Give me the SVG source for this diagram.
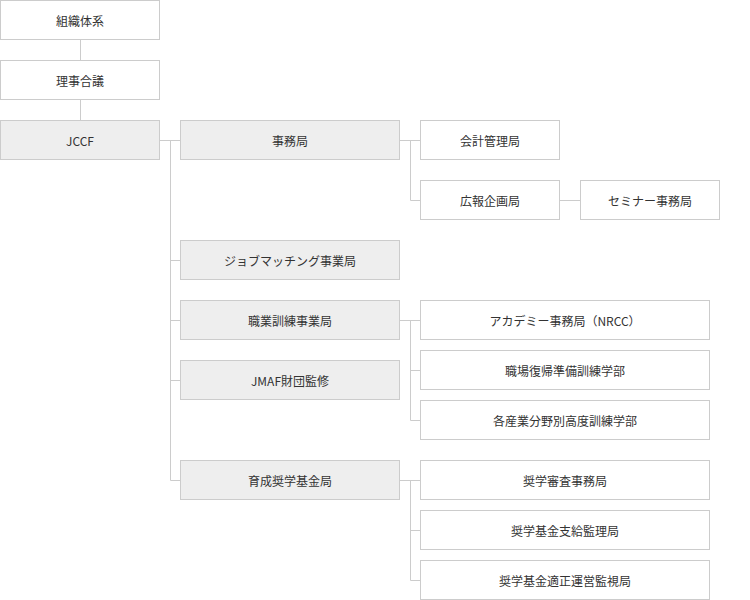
<svg xmlns="http://www.w3.org/2000/svg" width="750" height="600" viewBox="0 0 750 600">
<style>
.b rect{fill:#fff;stroke:#ccc;stroke-width:1}
.g rect{fill:#eee;stroke:#ccc;stroke-width:1}
text{font-family:"Noto Sans CJK JP","Liberation Sans",sans-serif;font-size:12px;fill:#333;text-anchor:middle;dominant-baseline:central}
#connectors path{fill:none;stroke:#ccc;stroke-width:1}
</style>
<rect width="750" height="600" fill="#fff"/>
<g id="connectors">
<path d="M80.5 40V60M80.5 100V120"/>
<path d="M160 140.5H180.5M170.5 140V480.5H180M170.5 260.5H180M170.5 320.5H180M170.5 380.5H180"/>
<path d="M400 140.5H420M410.5 140V200.5H420"/>
<path d="M560 200.5H580"/>
<path d="M400 320.5H420M410.5 320V420.5H420M410.5 370.5H420"/>
<path d="M400 480.5H420M410.5 480V580.5H420M410.5 530.5H420"/>
</g>
<g id="n1" class="b"><rect x="0.5" y="0.5" width="159" height="39"/><text x="80" y="20.5">組織体系</text></g>
<g id="n2" class="b"><rect x="0.5" y="60.5" width="159" height="39"/><text x="80" y="80.5">理事合議</text></g>
<g id="n3" class="g"><rect x="0.5" y="120.5" width="159" height="39"/><text x="80" y="140.5">JCCF</text></g>
<g id="n4" class="g"><rect x="180.5" y="120.5" width="219" height="39"/><text x="290" y="140.5">事務局</text></g>
<g id="n5" class="g"><rect x="180.5" y="240.5" width="219" height="39"/><text x="290" y="260.5">ジョブマッチング事業局</text></g>
<g id="n6" class="g"><rect x="180.5" y="300.5" width="219" height="39"/><text x="290" y="320.5">職業訓練事業局</text></g>
<g id="n7" class="g"><rect x="180.5" y="360.5" width="219" height="39"/><text x="290" y="380.5">JMAF財団監修</text></g>
<g id="n8" class="g"><rect x="180.5" y="460.5" width="219" height="39"/><text x="290" y="480.5">育成奨学基金局</text></g>
<g id="n9" class="b"><rect x="420.5" y="120.5" width="139" height="39"/><text x="490" y="140.5">会計管理局</text></g>
<g id="n10" class="b"><rect x="420.5" y="180.5" width="139" height="39"/><text x="490" y="200.5">広報企画局</text></g>
<g id="n11" class="b"><rect x="580.5" y="180.5" width="139" height="39"/><text x="650" y="200.5">セミナー事務局</text></g>
<g id="n12" class="b"><rect x="420.5" y="300.5" width="289" height="39"/><text x="565" y="320.5">アカデミー事務局（NRCC）</text></g>
<g id="n13" class="b"><rect x="420.5" y="350.5" width="289" height="39"/><text x="565" y="370.5">職場復帰準備訓練学部</text></g>
<g id="n14" class="b"><rect x="420.5" y="400.5" width="289" height="39"/><text x="565" y="420.5">各産業分野別高度訓練学部</text></g>
<g id="n15" class="b"><rect x="420.5" y="460.5" width="289" height="39"/><text x="565" y="480.5">奨学審査事務局</text></g>
<g id="n16" class="b"><rect x="420.5" y="510.5" width="289" height="39"/><text x="565" y="530.5">奨学基金支給監理局</text></g>
<g id="n17" class="b"><rect x="420.5" y="560.5" width="289" height="39"/><text x="565" y="580.5">奨学基金適正運営監視局</text></g>
</svg>
